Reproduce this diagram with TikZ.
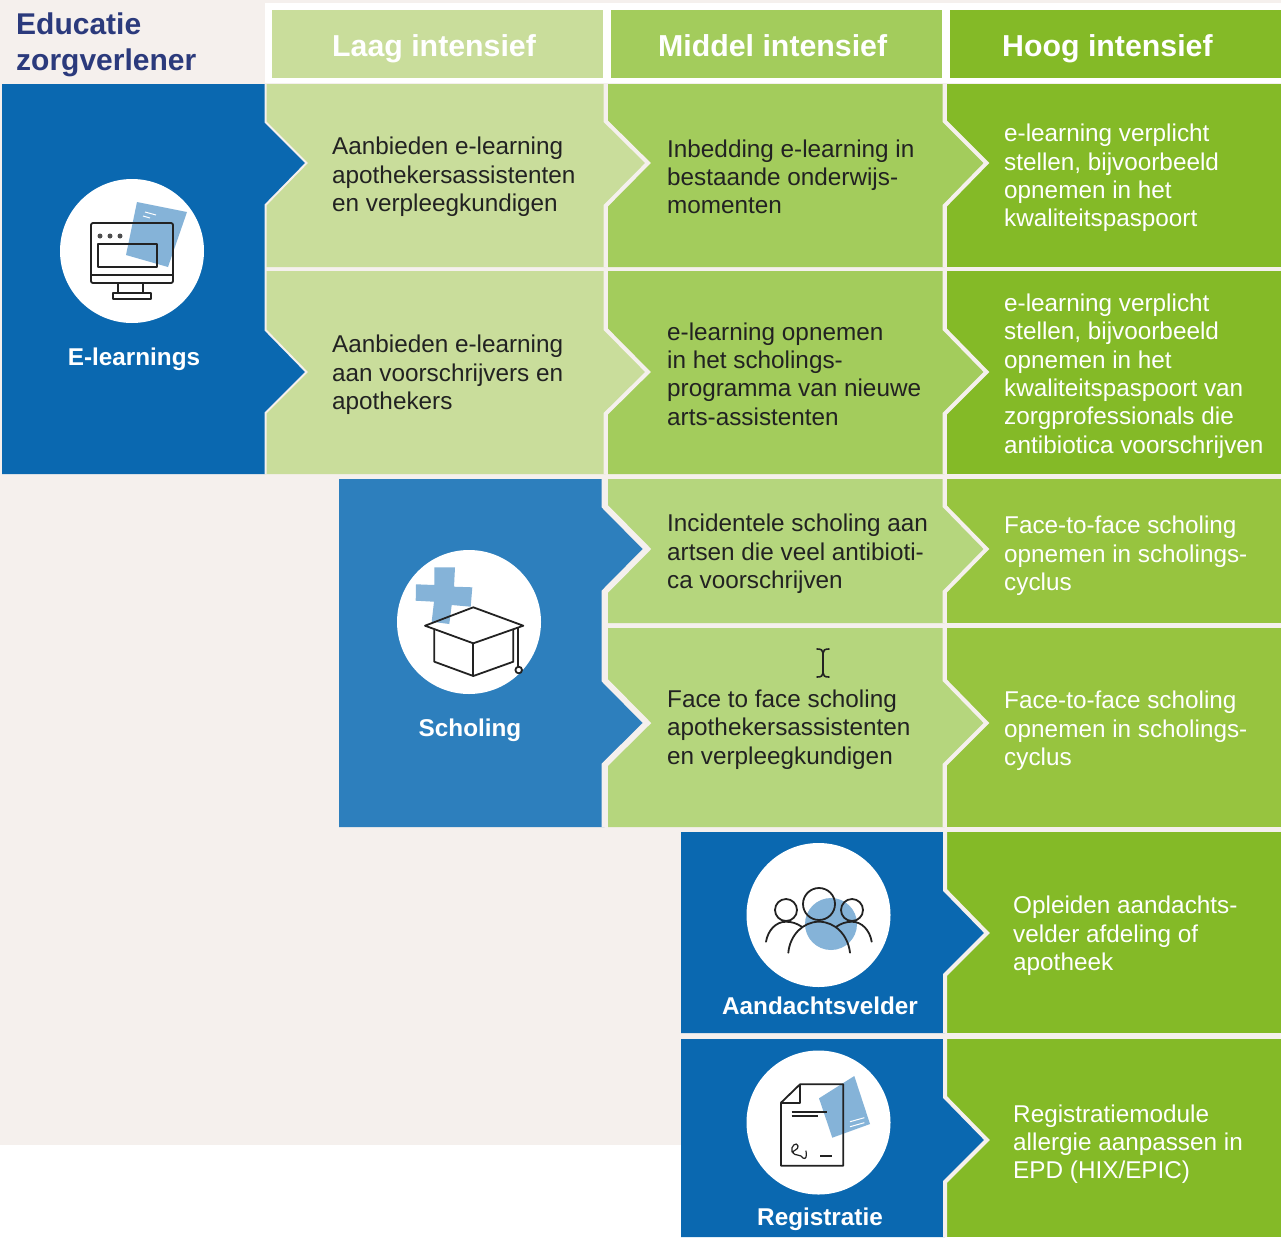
\documentclass[tikz,border=0pt]{standalone}
\usepackage{fontspec}
\setmainfont{Liberation Sans}
\definecolor{bgc}{HTML}{F5F0ED}
\definecolor{titlec}{HTML}{2B3A7C}
\definecolor{lowc}{HTML}{C9DD9B}
\definecolor{midc}{HTML}{A3CC5C}
\definecolor{highc}{HTML}{84BA27}
\definecolor{midb}{HTML}{B5D67D}
\definecolor{highb}{HTML}{97C43F}
\definecolor{blued}{HTML}{0A68B0}
\definecolor{bluem}{HTML}{2D7FBD}
\definecolor{bluel}{HTML}{85B3D8}
\definecolor{ink}{HTML}{222222}
\tikzset{
  sep/.style={draw=bgc,line width=4pt,miter limit=10},
  widesep/.style={draw=bgc,line width=6pt,miter limit=10},
  thinsep/.style={draw=bgc,line width=2pt,miter limit=10},
  body/.style={anchor=west,align=left,inner sep=0pt,font=\fontsize{24.3}{28.3}\selectfont},
  bodyd/.style={body,text=ink},
  bodyw/.style={body,text=white},
  head/.style={anchor=base west,inner sep=0pt,text=white,font=\fontsize{30.3}{34}\selectfont\bfseries},
  lab/.style={anchor=center,inner sep=0pt,text=white,font=\fontsize{24.3}{28}\selectfont\bfseries},
  ttl/.style={anchor=base west,inner sep=0pt,text=titlec,font=\fontsize{30}{34}\selectfont\bfseries},
  ico/.style={draw=ink,line width=1.8pt,line join=round},
  disc/.style={fill=white},
  sheet/.style={fill=bluel},
}
% fill, left x, right x, tip x, y top, y bottom, notch a, tip y, notch b
\newcommand{\cellp}[9]{%
  \fill[#1] (#2,#5) -- (#3,#5) -- (#3,#7) -- (#4,#8) -- (#3,#9) -- (#3,#6) -- (#2,#6) -- cycle;
  \draw[sep] (#3,#5) -- (#3,#7) -- (#4,#8) -- (#3,#9) -- (#3,#6);
}
\begin{document}
\begin{tikzpicture}[x=1pt,y=-1pt]
\useasboundingbox (0,0) rectangle (1281,1237);
\fill[bgc] (0,0) rectangle (1281,1237);
\fill[white] (0,1145) rectangle (681,1237);
% header
\fill[white] (265,3) rectangle (1281,83);
\fill[lowc] (272,10) rectangle (603,78);
\fill[midc] (611,10) rectangle (942,78);
\fill[highc] (950,10) rectangle (1281,78);
\node[head] (hlow) at (332,56) {Laag intensief};
\node[head] (hmid) at (658,56) {Middel intensief};
\node[head] (hhigh) at (1002,56) {Hoog intensief};
\node[ttl] (t1) at (16,34) {Educatie};
\node[ttl] (t2) at (16,70) {zorgverlener};
% rows 1-2
\fill[highc] (947,84) rectangle (1281,267);
\fill[highc] (947,271) rectangle (1281,474);
\cellp{midc}{608}{944.5}{986.5}{84}{267}{121}{163}{206}
\cellp{midc}{608}{944.5}{986.5}{271}{474}{329}{372}{414}
\cellp{lowc}{265}{605.5}{648}{84}{267}{121}{163}{206}
\cellp{lowc}{265}{605.5}{648}{271}{474}{329}{372}{414}
\fill[blued] (2,84) -- (265,84) -- (265,122) -- (306,163) -- (265,205) -- (265,330) -- (306,372) -- (265,413) -- (265,474) -- (2,474) -- cycle;
\draw[thinsep] (265.5,84) -- (265.5,122) -- (306.5,163) -- (265.5,205) -- (265.5,330) -- (306.5,372) -- (265.5,413) -- (265.5,474);
% rows 3-4
\fill[highb] (947,479) rectangle (1281,623);
\fill[highb] (947,628) rectangle (1281,827);
\cellp{midb}{608}{944.5}{986.5}{479}{623}{506}{549}{592}
\cellp{midb}{608}{944.5}{986.5}{628}{827}{680}{723}{765}
\fill[bluem] (339,479) -- (604.5,479) -- (604.5,506) -- (647,549) -- (604.5,592) -- (604.5,680) -- (647,723) -- (604.5,765) -- (604.5,827) -- (339,827) -- cycle;
\draw[widesep] (604.5,479) -- (604.5,506) -- (647,549) -- (604.5,592) -- (604.5,680) -- (647,723) -- (604.5,765) -- (604.5,827);
% rows 5-6
\fill[highc] (947,832) rectangle (1281,1033);
\fill[highc] (947,1039) rectangle (1281,1237);
\cellp{blued}{681}{945}{987}{832}{1033}{890}{933}{975}
\cellp{blued}{681}{945}{987}{1039}{1237}{1097}{1140}{1182}
% body texts
\node[bodyd] (a1) at (332,177) {Aanbieden e-learning\\apothekersassistenten\\en verpleegkundigen};
\node[bodyd] (a2) at (332,375) {Aanbieden e-learning\\aan voorschrijvers en\\apothekers};
\node[bodyd] (b1) at (667,177) {Inbedding e-learning in\\bestaande onderwijs-\\momenten};
\node[bodyd] (b2) at (667,374) {e-learning opnemen\\in het scholings-\\programma van nieuwe\\arts-assistenten};
\node[bodyw] (c1) at (1004,178) {e-learning verplicht\\stellen, bijvoorbeeld\\opnemen in het\\kwaliteitspaspoort};
\node[bodyw] (c2) at (1004,376) {e-learning verplicht\\stellen, bijvoorbeeld\\opnemen in het\\kwaliteitspaspoort van\\zorgprofessionals die\\antibiotica voorschrijven};
\node[bodyd] (b3) at (667,554) {Incidentele scholing aan\\artsen die veel antibioti-\\ca voorschrijven};
\node[bodyd] (b4) at (667,729.5) {Face to face scholing\\apothekersassistenten\\en verpleegkundigen};
\node[bodyw] (c3) at (1004,556) {Face-to-face scholing\\opnemen in scholings-\\cyclus};
\node[bodyw] (c4) at (1004,731) {Face-to-face scholing\\opnemen in scholings-\\cyclus};
\node[bodyw] (c5) at (1013,936) {Opleiden aandachts-\\velder afdeling of\\apotheek};
\node[bodyw] (c6) at (1013,1144) {Registratiemodule\\allergie aanpassen in\\EPD (HIX/EPIC)};
% labels
\node[lab] (l1) at (134,359) {E-learnings};
\node[lab] (l2) at (470,730) {Scholing};
\node[lab] (l3) at (820,1006) {Aandachtsvelder};
\node[lab] (l4) at (820,1219) {Registratie};
% discs
\fill[disc] (132,251) circle (72);
\fill[disc] (469,622) circle (72);
\fill[disc] (818.5,915) circle (72);
\fill[disc] (818.5,1122.5) circle (72);
% monitor icon
\fill[sheet] (137,202) -- (187,212) -- (168,267) -- (126,255) -- cycle;
\draw[white,line width=1pt] (145,212) -- (156,215) (143,216) -- (150,218);
\draw[ico,rounded corners=2pt] (91,223) rectangle (173,283);
\draw[ico] (91,275) -- (173,275) (98,244) rectangle (157,267);
\fill[ink!80] (100,236) circle (2.5) (110,236) circle (2.5) (120,236) circle (2.5);
\draw[ico] (118,283) -- (118,293) (143,283) -- (143,293) (113,293) rectangle (151,299);
% cap icon
\fill[sheet] (434.3,567.3) -- (455,567.3) -- (454,586.7) -- (472.3,587.3) -- (470.7,606.7) -- (451.7,605) -- (449.3,624) -- (431.7,621.7) -- (434,601.7) -- (415.7,600.7) -- (416,584.3) -- (434.3,585) -- cycle;
\draw[ico] (473.3,607.3) -- (523.3,625.7) -- (473.3,643.3) -- (425,625.7) -- cycle;
\draw[ico] (434.3,630) -- (434.3,661.7) -- (473.3,676) -- (513.3,661.7) -- (513.3,630);
\draw[ico] (473.3,643.3) -- (473.3,676) (517.7,627.3) -- (517.7,666.7);
\draw[ico] (518.7,670) circle (3.3);
% group icon
\fill[sheet] (831,924) circle (26);
\draw[ico] (786,910) circle (11) (819,904) circle (16) (852,910) circle (11);
\draw[ico,line cap=round] (788.3,952.7) .. controls (790,935) and (803,921.7) .. (819,921.7) .. controls (835,921.7) and (848,935) .. (850,952.7);
\draw[ico,line cap=round] (766,941.7) .. controls (768,930) and (776,921.7) .. (786,921.7) .. controls (792,921.7) and (797,923.5) .. (801.7,926.7);
\draw[ico,line cap=round] (871.7,941.7) .. controls (869.7,930) and (861.7,921.7) .. (852,921.7) .. controls (846,921.7) and (841,923.5) .. (836.3,926.7);
% document icon
\fill[sheet] (854.3,1076) -- (870,1124) -- (832.3,1137.7) -- (819,1098.3) -- cycle;
\draw[white,line width=1pt] (850,1121.7) -- (864.3,1117.7) (850,1126.7) -- (864.3,1122.7);
\draw[ico] (800,1084.3) -- (843.3,1084.3) -- (843.3,1165.7) -- (781,1165.7) -- (781,1102.7) -- cycle;
\draw[ico] (800,1084.3) -- (800,1102.7) -- (781,1102.7);
\draw[ico] (791.7,1112.3) -- (826.7,1112.3) (791.7,1116.3) -- (817.7,1116.3) (820,1156) -- (831.7,1156);
\draw[ico,line width=1.2pt,line cap=round] (792,1152) .. controls (790,1146) and (797,1141) .. (798,1146) .. controls (799,1150) and (792,1150) .. (793,1153) .. controls (795,1156) and (801,1154) .. (803,1158) .. controls (806,1160) and (807,1156) .. (806,1151);
% text cursor
\draw[ink,line width=1.6pt,line cap=round] (817,649) .. controls (821,649) and (823,650) .. (823,653) -- (823,673) .. controls (823,676) and (821,677) .. (817,677);
\draw[ink,line width=1.6pt,line cap=round] (829,649) .. controls (825,649) and (823,650) .. (823,653) (823,673) .. controls (823,676) and (825,677) .. (829,677);
\end{tikzpicture}
\end{document}
